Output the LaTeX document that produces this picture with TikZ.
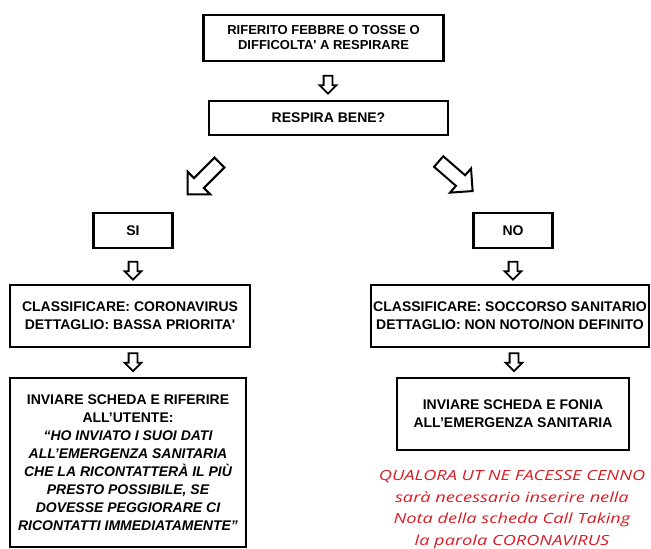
\documentclass[tikz,border=0pt]{standalone}
\usepackage{fontspec}
\setmainfont{Liberation Sans}
\newfontfamily\notefont{Open Sans}
\usetikzlibrary{shapes.arrows}
\definecolor{notered}{RGB}{218,28,36}
\begin{document}
\begin{tikzpicture}[x=1pt,y=-1pt,
  box/.style={draw, line width=2.2pt, rectangle, align=center, inner sep=0pt,
    font=\bfseries\fontsize{14}{18}\selectfont},
  darrow/.style={single arrow, draw, line width=1.8pt, line join=miter,
    inner xsep=0pt, inner ysep=3.5pt, minimum height=18pt,
    single arrow head extend=4pt, rotate=-90},
  bigarrow/.style={single arrow, draw, line width=2pt, line join=miter,
    inner xsep=0pt, inner ysep=6pt, minimum height=45pt,
    single arrow head extend=9pt},
  note/.style={text=notered, align=center, inner sep=0pt,
    font=\notefont\itshape\fontsize{14}{21.5}\selectfont}]
\useasboundingbox (0,0) rectangle (651,549);

\node[box, minimum width=240pt, minimum height=46pt,
  font=\bfseries\fontsize{13}{15}\selectfont] (b1) at (323.5,38)
  {RIFERITO FEBBRE O TOSSE O\\DIFFICOLTA\textquotesingle{} A RESPIRARE};
\node[darrow] (a1) at (328,82.5) {};
\node[box, minimum width=239pt, minimum height=34pt] (b2) at (328.5,118) {RESPIRA BENE?};

\node[bigarrow, rotate=-135] (a2) at (206,176) {};
\node[bigarrow, rotate=-41] (a3) at (453,174) {};

\node[box, minimum width=79pt, minimum height=35pt] (si) at (133,230.5) {SI};
\node[box, minimum width=79pt, minimum height=35pt] (no) at (513,230.5) {NO};

\node[darrow] (a4) at (133,268.5) {};
\node[darrow] (a5) at (513,268.5) {};

\node[box, minimum width=240pt, minimum height=62pt] (cl) at (130,316)
  {CLASSIFICARE: CORONAVIRUS\\DETTAGLIO: BASSA PRIORITA\textquotesingle};
\node[box, minimum width=278pt, minimum height=62pt] (cr) at (510,316)
  {CLASSIFICARE: SOCCORSO SANITARIO\\DETTAGLIO: NON NOTO/NON DEFINITO};

\node[darrow] (a6) at (133,360) {};
\node[darrow] (a7) at (514,360) {};

\node[box, minimum width=236pt, minimum height=169pt] (bl) at (128,462.5)
  {INVIARE SCHEDA E RIFERIRE\\ALL’UTENTE:\\
   \itshape “HO INVIATO I SUOI DATI\\\itshape ALL’EMERGENZA SANITARIA\\
   \itshape CHE LA RICONTATTERÀ IL PIÙ\\\itshape PRESTO POSSIBILE, SE\\
   \itshape DOVESSE PEGGIORARE CI\\\itshape RICONTATTI IMMEDIATAMENTE”};
\node[box, minimum width=232pt, minimum height=72pt] (br) at (513,414)
  {INVIARE SCHEDA E FONIA\\ALL’EMERGENZA SANITARIA};

\node[note, anchor=north, xscale=1.3, transform shape] (nt) at (512,470.5)
  {QUALORA UT NE FACESSE CENNO\\sarà necessario inserire nella\\
   Nota della scheda Call Taking\\la parola CORONAVIRUS};
\end{tikzpicture}
\end{document}
